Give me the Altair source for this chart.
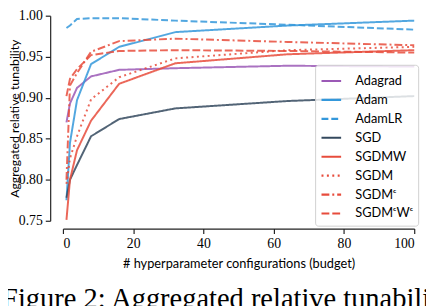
import altair as alt
import pandas as pd

budgets = [1, 2, 4, 8, 16, 32, 64, 100]
series_names = ["Adagrad", "Adam", "AdamLR", "SGD", "SGDMW", "SGDM", "SGDMᶜ", "SGDMᶜWᶜ"]
adagrad = [0.870, 0.893, 0.912, 0.926, 0.934, 0.936, 0.939, 0.938]
adam = [0.775, 0.845, 0.897, 0.941, 0.962, 0.980, 0.988, 0.994]
adamlr = [0.985, 0.988, 0.996, 0.997, 0.997, 0.994, 0.989, 0.983]
sgd = [0.778, 0.800, 0.818, 0.853, 0.874, 0.887, 0.896, 0.902]
sgdmw = [0.751, 0.800, 0.836, 0.872, 0.917, 0.942, 0.953, 0.958]
sgdm = [0.795, 0.826, 0.853, 0.898, 0.925, 0.948, 0.958, 0.962]
sgdmc = [0.800, 0.915, 0.930, 0.956, 0.969, 0.972, 0.968, 0.964]
sgdmcwc = [0.902, 0.923, 0.935, 0.952, 0.957, 0.958, 0.957, 0.955]

colors = ["#9b59b6", "#3498db", "#3498db", "#34495e", "#e74c3c", "#e74c3c", "#e74c3c", "#e74c3c"]
dashes = [[1, 0], [1, 0], [7, 3], [1, 0], [1, 0], [2, 3.5], [8, 3, 2, 3], [8, 3]]
y_ticks = [0.75, 0.80, 0.85, 0.90, 0.95, 1.00]
x_ticks = [0, 20, 40, 60, 80, 100]

all_values = [adagrad, adam, adamlr, sgd, sgdmw, sgdm, sgdmc, sgdmcwc]
rows = []
for name, vals in zip(series_names, all_values):
    for b, v in zip(budgets, vals):
        rows.append({"budget": b, "value": v, "optimizer": name})
df = pd.DataFrame(rows)

legend = alt.Legend(
    title=None, orient="none", legendX=257, legendY=50,
    symbolType="stroke", symbolSize=400, symbolStrokeWidth=2.2,
    labelFont="Lato", labelFontSize=13, labelColor="black", labelOffset=13,
    fillColor="rgba(255,255,255,0.8)", strokeColor="#d0d0d0", cornerRadius=3,
    padding=5, rowPadding=0.3,
)

chart = alt.Chart(df).mark_line(strokeWidth=2, strokeOpacity=0.85).encode(
    x=alt.X("budget:Q", scale=alt.Scale(domain=[0, 100], nice=False, zero=False),
            axis=alt.Axis(values=x_ticks, offset=8, tickSize=5, labelPadding=3,
                          title="# hyperparameter configurations (budget)", titlePadding=8)),
    y=alt.Y("value:Q", scale=alt.Scale(domain=[0.75, 1.0], nice=False, zero=False),
            axis=alt.Axis(values=y_ticks, format=".2f", offset=13, tickSize=5, labelPadding=3,
                          title="Aggregated relative tunability", titleFontSize=12.5,
                          titleX=-32, titleBaseline="alphabetic")),
    color=alt.Color("optimizer:N", scale=alt.Scale(domain=series_names, range=colors), legend=legend),
    strokeDash=alt.StrokeDash("optimizer:N", scale=alt.Scale(domain=series_names, range=dashes), legend=legend),
    detail="optimizer:N",
).properties(
    width=358, height=209,
    padding={"left": 56, "top": 5, "right": 12, "bottom": 84},
    autosize=alt.AutoSizeParams(type="none"),
    title=alt.TitleParams("Figure 2: Aggregated relative tunability", orient="bottom", anchor="start",
                          frame="group", offset=15, dx=-62, font="Liberation Serif", fontSize=29,
                          fontWeight="normal", color="black", baseline="top"),
).configure_view(stroke=None).configure_axis(
    grid=False, domainColor="#222", tickColor="#222", domainWidth=1.2, tickWidth=1.2,
    labelFont="Liberation Serif", labelFontSize=14, labelColor="black",
    titleFont="Lato", titleFontSize=13, titleFontWeight="normal", titleColor="black",
)

chart.save("out.html", embed_options={"renderer": "svg", "actions": False})
